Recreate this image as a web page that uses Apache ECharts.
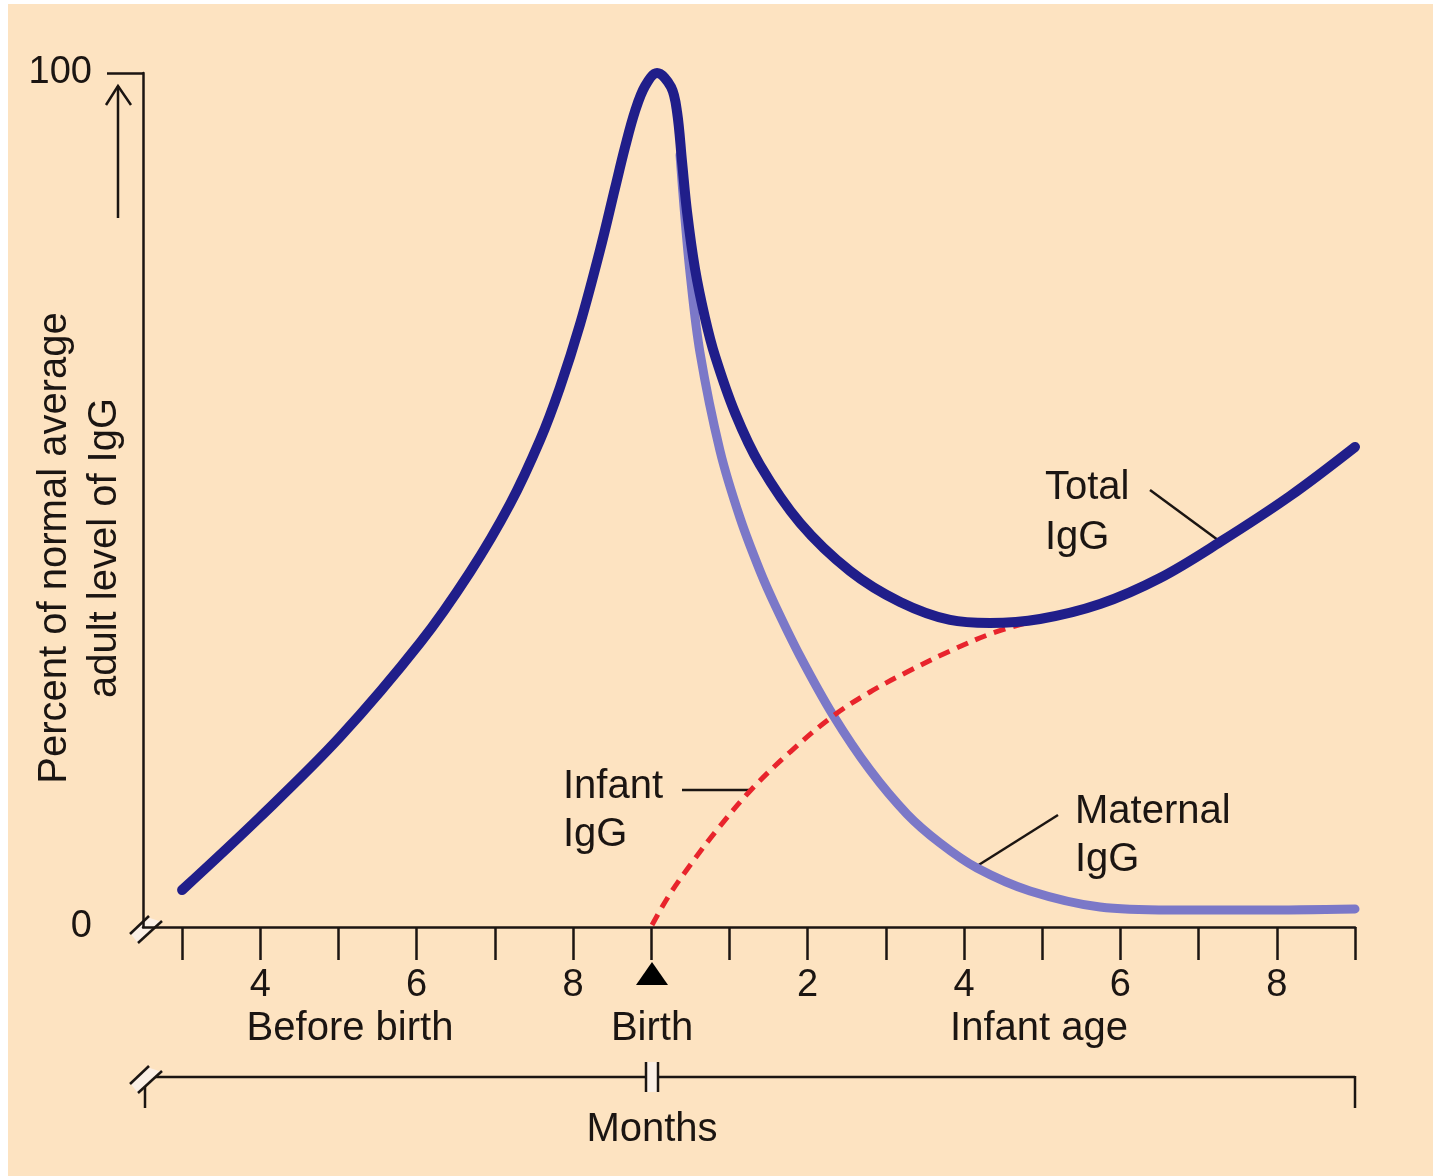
<!DOCTYPE html>
<html>
<head>
<meta charset="utf-8">
<title>IgG levels before and after birth</title>
<script src="https://cdn.jsdelivr.net/npm/echarts@6/dist/echarts.min.js"></script>
<style>
  html, body { margin: 0; padding: 0; background: #ffffff; }
  #paper { position: absolute; left: 8px; top: 4px; right: 0; bottom: 0; background: #fde3c1; }
  #main { position: absolute; left: 0; top: 0; width: 1433px; height: 1176px; }
</style>
</head>
<body>
<div id="paper"></div>
<div id="main"></div>
<script>
// months counted from conception: birth = 9, infant month m = 9 + m
var totalMonths = [3.000, 3.997, 5.020, 6.043, 6.683, 7.194, 7.578, 7.834, 8.090, 8.345, 8.537, 8.665, 8.793, 8.921, 9.074,
  9.253, 9.330, 9.394, 9.458, 9.560, 9.688, 9.816, 10.072, 10.391, 10.903, 11.542, 12.182, 12.821, 13.332, 13.972,
  14.739, 15.506, 16.274, 17.169, 18.000];
var totalLevel = [4.33, 12.88, 22.25, 33.26, 41.57, 49.53, 57.03, 63.23, 70.61, 79.27, 86.53, 91.33, 95.55, 98.48, 100.0,
  98.36, 95.43, 89.58, 83.72, 77.05, 71.31, 66.86, 60.19, 54.10, 47.31, 41.69, 38.06, 35.95, 35.60, 36.07,
  37.82, 40.87, 45.08, 50.47, 56.21];

var maternalMonths = [9.368, 9.419, 9.496, 9.624, 9.880, 10.136, 10.391, 10.583, 10.903, 11.325, 11.798, 12.271, 12.693,
  13.166, 13.844, 14.739, 15.634, 16.785, 18.000];
var maternalLevel = [90.40, 84.31, 76.58, 67.21, 55.74, 47.89, 41.69, 37.70, 31.73, 24.82, 18.38, 13.23, 9.84,
  6.91, 4.22, 2.34, 1.99, 1.99, 2.11];

var infantMonths = [9.010, 9.215, 9.471, 9.829, 10.263, 10.775, 11.325, 11.798, 12.271, 12.821, 13.371, 13.934];
var infantLevel = [0.23, 3.51, 6.91, 11.24, 15.93, 20.49, 24.71, 27.52, 29.86, 32.32, 34.43, 35.95];

var tickMonths = [3, 4, 5, 6, 7, 8, 9, 10, 11, 12, 13, 14, 15, 16, 17, 18];
var labelMonths = [4, 6, 8, 11, 13, 15, 17];
var levelTicks = [100];
var levelLabels = [0, 100];

function pairs(xs, ys) {
  return xs.map(function (x, i) { return [x, ys[i]]; });
}

var ink = '#1b1512';
var font = '"Liberation Sans", Arial, Helvetica, sans-serif';
var gapFill = '#fbf0e6';

var chart = echarts.init(document.getElementById('main'));

var option = {
  backgroundColor: 'transparent',
  animation: false,
  grid: { left: 143, right: 78, top: 73, bottom: 249, outerBoundsMode: 'none' },
  xAxis: {
    type: 'value',
    min: 2.5,
    max: 18,
    splitLine: { show: false },
    axisLine: { show: true, lineStyle: { color: ink, width: 2.5 } },
    axisTick: { show: true, length: 33, customValues: tickMonths, lineStyle: { color: ink, width: 2.5 } },
    axisLabel: {
      customValues: labelMonths,
      margin: 40,
      fontSize: 38,
      fontFamily: font,
      color: ink,
      formatter: function (v) { return v > 9 ? String(v - 9) : String(v); }
    }
  },
  yAxis: {
    type: 'value',
    min: 0,
    max: 100,
    splitLine: { show: false },
    axisLine: { show: true, lineStyle: { color: ink, width: 2.5 } },
    axisTick: { show: true, length: 36, customValues: levelTicks, lineStyle: { color: ink, width: 2.5 } },
    axisLabel: { customValues: levelLabels, margin: 51, fontSize: 38, fontFamily: font, color: ink }
  },
  series: [
    {
      name: 'Maternal IgG',
      type: 'line',
      data: pairs(maternalMonths, maternalLevel),
      smooth: 0.35,
      showSymbol: false,
      z: 2,
      lineStyle: { color: '#7b78c8', width: 9, cap: 'round' }
    },
    {
      name: 'Infant IgG',
      type: 'line',
      data: pairs(infantMonths, infantLevel),
      smooth: 0.35,
      showSymbol: false,
      z: 3,
      lineStyle: { color: '#e8242c', width: 5, type: [12, 8] }
    },
    {
      name: 'Total IgG',
      type: 'line',
      data: pairs(totalMonths, totalLevel),
      smooth: 0.35,
      showSymbol: false,
      z: 4,
      lineStyle: { color: '#201e8a', width: 10, cap: 'round' }
    }
  ],
  graphic: {
    elements: [
      // upward arrow next to the level axis
      { type: 'line', shape: { x1: 118, y1: 218, x2: 118, y2: 86 }, style: { stroke: ink, lineWidth: 2.5 } },
      { type: 'polyline', shape: { points: [[106, 105], [118, 86], [131, 105]] }, style: { stroke: ink, lineWidth: 2.5, fill: null } },
      // axis break at origin
      { type: 'polygon', shape: { points: [[130, 933], [147, 917], [162, 922], [138, 943]] }, style: { fill: gapFill } },
      { type: 'line', shape: { x1: 130, y1: 934, x2: 149, y2: 916 }, style: { stroke: ink, lineWidth: 2.5 } },
      { type: 'line', shape: { x1: 138, y1: 943, x2: 162, y2: 921 }, style: { stroke: ink, lineWidth: 2.5 } },
      // birth marker
      { type: 'polygon', shape: { points: [[652, 962], [636, 985], [668, 985]] }, style: { fill: '#000' } },
      // months bracket
      { type: 'line', shape: { x1: 145, y1: 1077, x2: 1355, y2: 1077 }, style: { stroke: ink, lineWidth: 2.5 } },
      { type: 'line', shape: { x1: 1355, y1: 1076, x2: 1355, y2: 1108 }, style: { stroke: ink, lineWidth: 2.5 } },
      { type: 'line', shape: { x1: 145, y1: 1082, x2: 145, y2: 1108 }, style: { stroke: ink, lineWidth: 2.5 } },
      { type: 'polygon', shape: { points: [[130, 1083], [147, 1067], [162, 1072], [138, 1093]] }, style: { fill: gapFill } },
      { type: 'line', shape: { x1: 130, y1: 1084, x2: 149, y2: 1066 }, style: { stroke: ink, lineWidth: 2.5 } },
      { type: 'line', shape: { x1: 138, y1: 1093, x2: 162, y2: 1071 }, style: { stroke: ink, lineWidth: 2.5 } },
      { type: 'rect', shape: { x: 646, y: 1062, width: 12, height: 30 }, style: { fill: gapFill } },
      { type: 'line', shape: { x1: 646, y1: 1062, x2: 646, y2: 1092 }, style: { stroke: ink, lineWidth: 2.5 } },
      { type: 'line', shape: { x1: 658, y1: 1062, x2: 658, y2: 1092 }, style: { stroke: ink, lineWidth: 2.5 } },
      // callout leaders
      { type: 'line', shape: { x1: 1150, y1: 490, x2: 1222, y2: 543 }, style: { stroke: ink, lineWidth: 2.5 } },
      { type: 'line', shape: { x1: 682, y1: 790, x2: 752, y2: 790 }, style: { stroke: ink, lineWidth: 2.5 } },
      { type: 'line', shape: { x1: 1058, y1: 815, x2: 977, y2: 866 }, style: { stroke: ink, lineWidth: 2.5 } },
      // texts
      { type: 'text', x: 1045, y: 513, style: { text: 'Total\nIgG', fontSize: 40, fontFamily: font, lineHeight: 50, fill: ink, align: 'left', verticalAlign: 'middle' } },
      { type: 'text', x: 563, y: 811, style: { text: 'Infant\nIgG', fontSize: 40, fontFamily: font, lineHeight: 48, fill: ink, align: 'left', verticalAlign: 'middle' } },
      { type: 'text', x: 1075, y: 836, style: { text: 'Maternal\nIgG', fontSize: 40, fontFamily: font, lineHeight: 48, fill: ink, align: 'left', verticalAlign: 'middle' } },
      { type: 'text', x: 350, y: 1029, style: { text: 'Before birth', fontSize: 40, fontFamily: font, fill: ink, align: 'center', verticalAlign: 'middle' } },
      { type: 'text', x: 652, y: 1029, style: { text: 'Birth', fontSize: 40, fontFamily: font, fill: ink, align: 'center', verticalAlign: 'middle' } },
      { type: 'text', x: 1039, y: 1029, style: { text: 'Infant age', fontSize: 40, fontFamily: font, fill: ink, align: 'center', verticalAlign: 'middle' } },
      { type: 'text', x: 652, y: 1130, style: { text: 'Months', fontSize: 40, fontFamily: font, fill: ink, align: 'center', verticalAlign: 'middle' } },
      { type: 'text', x: 80, y: 548, rotation: Math.PI / 2, style: { text: 'Percent of normal average\nadult level of IgG', fontSize: 40, fontFamily: font, lineHeight: 50, fill: ink, align: 'center', verticalAlign: 'middle' } }
    ]
  }
};

chart.setOption(option);
</script>
</body>
</html>
